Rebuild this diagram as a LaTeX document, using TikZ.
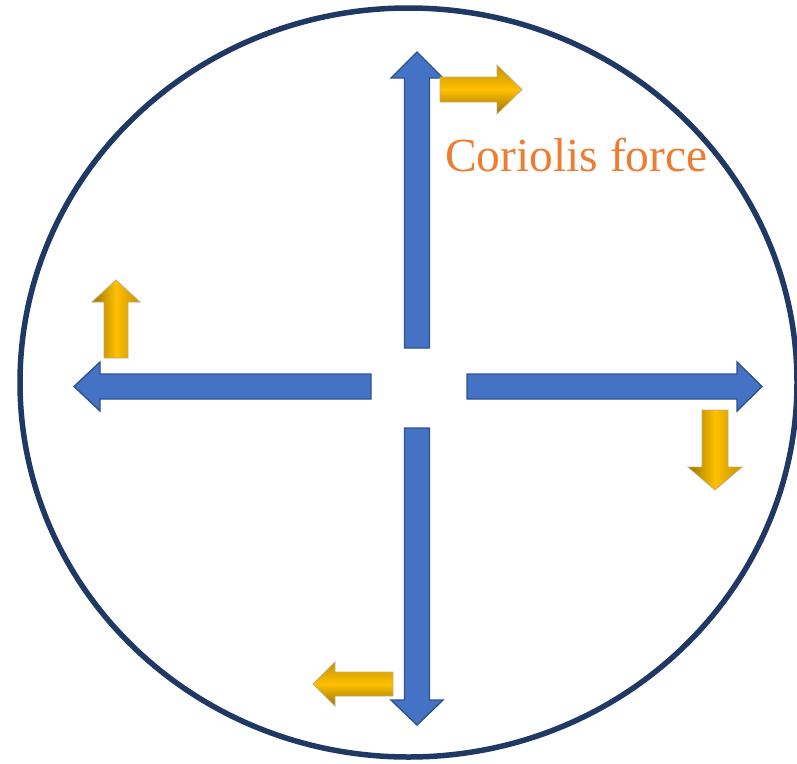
\documentclass[tikz,border=0pt]{standalone}
\usepackage{fontspec}
\setmainfont{Liberation Serif}
\definecolor{ringblue}{HTML}{1F3864}
\definecolor{arrowblue}{HTML}{4472C4}
\definecolor{arrowedge}{HTML}{2F528F}
\definecolor{goldmid}{HTML}{FFC000}
\definecolor{golddark}{HTML}{9A7300}
\definecolor{goldedge}{HTML}{7F6000}
\definecolor{labelorange}{HTML}{ED7D31}
\tikzset{
  bluearrow/.style={fill=arrowblue, draw=arrowedge, line width=1.4pt, line join=miter},
  goldh/.style={top color=golddark!60!goldmid, bottom color=golddark, middle color=goldmid, draw=goldedge!50, line width=0.8pt},
  goldv/.style={left color=golddark, right color=golddark!60!goldmid, middle color=goldmid, draw=goldedge!50, line width=0.8pt},
}
\begin{document}
\begin{tikzpicture}[x=1pt,y=-1pt]
\useasboundingbox (0,0) rectangle (797,763);
% outer circle
\draw[ringblue, line width=5.5pt] (408.5,382.5) ellipse [x radius=388.5, y radius=374.5];
% blue arrows
\path[bluearrow] (404.5,348) -- (404.5,78) -- (391,78) -- (417,52) -- (443,78) -- (429.5,78) -- (429.5,348) -- cycle;
\path[bluearrow] (404.5,428) -- (404.5,700) -- (391,700) -- (417,725) -- (443,700) -- (429.5,700) -- (429.5,428) -- cycle;
\path[bluearrow] (371,374) -- (100,374) -- (100,362) -- (74,386.5) -- (100,411) -- (100,399) -- (371,399) -- cycle;
\path[bluearrow] (467,374) -- (737,374) -- (737,362) -- (762,386.5) -- (737,411) -- (737,399) -- (467,399) -- cycle;
% gold arrows (Coriolis force)
\path[goldh] (440,77) -- (497,77) -- (497,65) -- (522,89.5) -- (497,114) -- (497,102) -- (440,102) -- cycle;
\path[goldv] (104,358) -- (104,302) -- (92,302) -- (116,280) -- (140,302) -- (128,302) -- (128,358) -- cycle;
\path[goldv] (702,410) -- (702,467) -- (688,467) -- (715,490) -- (742,467) -- (728,467) -- (728,410) -- cycle;
\path[goldh] (393,672) -- (335,672) -- (335,662) -- (313,684) -- (335,706) -- (335,696) -- (393,696) -- cycle;
% label
\node[anchor=base west, inner sep=0pt, text=labelorange, font=\fontsize{47.5}{56}\selectfont] (label) at (445,171) {Coriolis force};
\end{tikzpicture}
\end{document}
